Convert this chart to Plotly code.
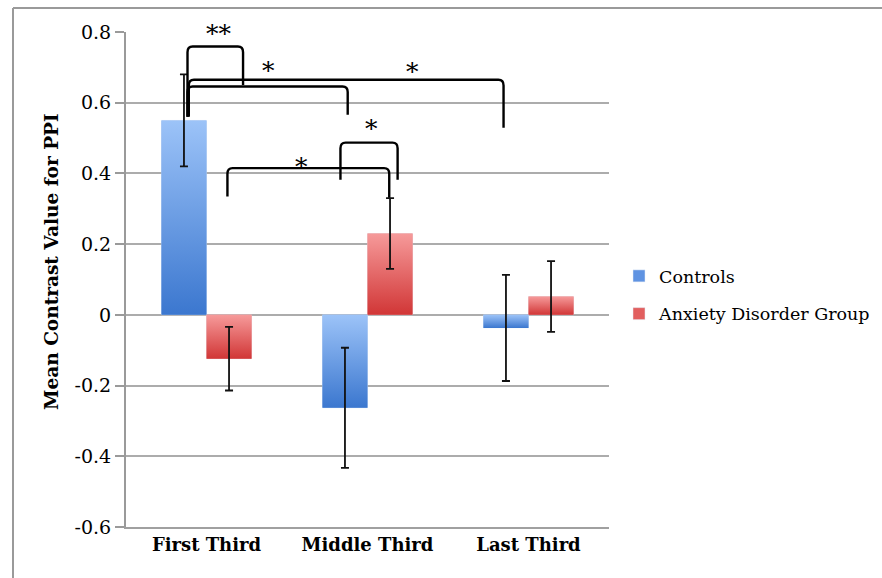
import plotly.graph_objects as go

# ---------------- data ----------------
categories = ["First Third", "Middle Third", "Last Third"]
controls = [0.55, -0.263, -0.037]
controls_err = [0.13, 0.17, 0.15]
anxiety = [-0.124, 0.23, 0.052]
anxiety_err = [0.09, 0.10, 0.10]
series_names = ["Controls", "Anxiety Disorder Group"]
ytick_vals = [-0.6, -0.4, -0.2, 0, 0.2, 0.4, 0.6, 0.8]
ytick_text = ["-0.6", "-0.4", "-0.2", "0", "0.2", "0.4", "0.6", "0.8"]
y_title = "Mean Contrast Value for PPI"

# significance brackets: (left x, right x, top y, left leg bottom, right leg bottom, label, label x, label y)
brackets = [
    (-0.118, 0.227, 0.759, 0.56, 0.650, "**", 0.08, 0.806),
    (-0.118, 0.877, 0.646, 0.56, 0.566, "*", 0.388, 0.702),
    (-0.110, 1.845, 0.665, 0.56, 0.529, "*", 1.28, 0.701),
    (0.832, 1.187, 0.487, 0.382, 0.382, "*", 1.022, 0.537),
    (0.130, 1.135, 0.415, 0.335, 0.331, "*", 0.588, 0.430),
]

# ---------------- styles ----------------
SERIF = "DejaVu Serif"
blue_light, blue_dark, blue_mid = "#9cc3f8", "#3b77cf", "#5f93e2"
red_light, red_dark, red_mid = "#f69a9a", "#d13636", "#e25f5f"
BARGAP = 0.44
W = (1 - BARGAP) / 2
idx = list(range(len(categories)))
YMIN, YMAX = ytick_vals[0], ytick_vals[-1]

fig = go.Figure()
fig.add_trace(go.Bar(x=idx, y=controls, name=series_names[0], marker_color=blue_mid,
                     legendgroup="c"))
fig.add_trace(go.Bar(x=idx, y=anxiety, name=series_names[1], marker_color=red_mid,
                     legendgroup="a"))

# gradient overlays for the bars
for vals, off, light, dark in [(controls, -1, blue_light, blue_dark), (anxiety, 0, red_light, red_dark)]:
    for i, v in zip(idx, vals):
        x0 = i + off * W
        x1 = x0 + W
        fig.add_trace(go.Scatter(
            x=[x0, x0, x1, x1, x0], y=[0, v, v, 0, 0], mode="none", fill="toself",
            fillgradient=dict(type="vertical", colorscale=[[0, dark], [1, light]]),
            showlegend=False, hoverinfo="skip"))

# error bars
for vals, errs, off in [(controls, controls_err, -0.5), (anxiety, anxiety_err, 0.5)]:
    fig.add_trace(go.Scatter(
        x=[i + off * W for i in idx], y=vals, mode="markers",
        marker=dict(size=1, opacity=0),
        error_y=dict(type="data", array=errs, visible=True, color="#111111", thickness=1.8, width=4),
        showlegend=False, hoverinfo="skip"))

# significance brackets
rx, ry = 0.032, 0.016
for (xl, xr, yt, ybl, ybr, lab, lx, ly) in brackets:
    path = (f"M {xl},{ybl} L {xl},{yt - ry} Q {xl},{yt} {xl + rx},{yt} "
            f"L {xr - rx},{yt} Q {xr},{yt} {xr},{yt - ry} L {xr},{ybr}")
    fig.add_shape(type="path", path=path, xref="x", yref="y",
                  line=dict(color="black", width=2.4), layer="above")
    fig.add_annotation(x=lx, y=(ly - YMIN) / (YMAX - YMIN), text=lab, showarrow=False,
                       xref="x", yref="paper", yshift=-4,
                       font=dict(family=SERIF, size=25, color="black"), yanchor="middle")

# layout geometry (pixels)
L, T, PW, PH = 126, 32, 483, 495
def px2paper_x(px):
    return (px - L) / PW
def px2paper_y(py):
    return (T + PH - py) / PH

# outer frame (top and left edges)
fig.add_shape(type="line", xref="paper", yref="paper",
              x0=px2paper_x(13), x1=px2paper_x(882), y0=px2paper_y(8), y1=px2paper_y(8),
              line=dict(color="#9a9a9a", width=2))
fig.add_shape(type="line", xref="paper", yref="paper",
              x0=px2paper_x(13), x1=px2paper_x(13), y0=px2paper_y(8), y1=px2paper_y(578),
              line=dict(color="#9a9a9a", width=2))

# y-axis title
fig.add_annotation(x=px2paper_x(51), y=px2paper_y(262), xref="paper", yref="paper",
                   text=y_title, textangle=-90, showarrow=False,
                   xanchor="center", yanchor="middle",
                   font=dict(family=SERIF, size=18.5, color="black", weight="bold"))

fig.update_layout(
    width=882, height=578,
    margin=dict(l=L, r=882 - L - PW, t=T, b=578 - T - PH, autoexpand=False),
    barmode="group", bargap=BARGAP,
    plot_bgcolor="white", paper_bgcolor="white",
    font=dict(family=SERIF, color="black"),
    legend=dict(x=px2paper_x(619), y=px2paper_y(258), xanchor="left", yanchor="top",
                font=dict(family=SERIF, size=17.5), traceorder="grouped", tracegroupgap=12,
                itemwidth=30, bgcolor="rgba(0,0,0,0)"),
    showlegend=True,
)
fig.update_xaxes(range=[-0.5, 2.5], tickmode="array", tickvals=idx, ticktext=categories,
                 showgrid=False, showline=True, linecolor="#a0a0a0", linewidth=2,
                 ticks="", tickfont=dict(family=SERIF, size=18, color="black", weight="bold"),
                 zeroline=False)
fig.update_yaxes(range=[YMIN, YMAX], tickmode="array", tickvals=ytick_vals, ticktext=ytick_text,
                 showgrid=True, gridcolor="#acacac", gridwidth=1.5,
                 zeroline=True, zerolinecolor="#acacac", zerolinewidth=1.5,
                 showline=True, linecolor="#9a9a9a", linewidth=2,
                 ticks="outside", ticklen=9, tickcolor="#9a9a9a", tickwidth=1.5,
                 tickfont=dict(family=SERIF, size=19, color="black"))

fig.write_html("out.html")
